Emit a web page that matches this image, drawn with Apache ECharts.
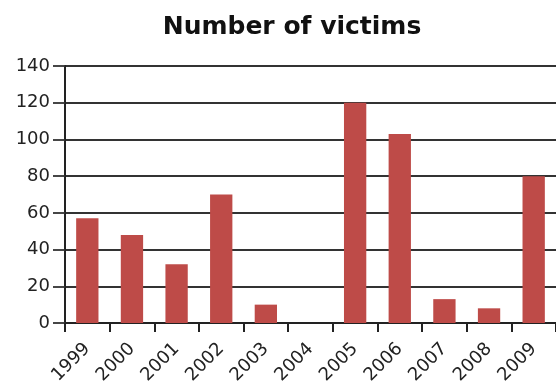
<!DOCTYPE html>
<html>
<head>
<meta charset="utf-8">
<script src="https://cdn.jsdelivr.net/npm/echarts@6/dist/echarts.min.js"></script>
<style>html,body{margin:0;padding:0;background:#fff;}#c{width:556px;height:389px;}</style>
</head>
<body>
<div id="c"></div>
<script>
const titleText = "Number of victims";
const years = ["1999","2000","2001","2002","2003","2004","2005","2006","2007","2008","2009"];
const victims = [57, 48, 32, 70, 10, 0, 120, 103, 13, 8, 80];
const yTicks = [0, 20, 40, 60, 80, 100, 120, 140];

const chart = echarts.init(document.getElementById('c'), null, {renderer: 'canvas'});
chart.setOption({
  animation: false,
  backgroundColor: '#ffffff',
  title: {
    text: titleText,
    left: 287, top: 10, textAlign: 'center',
    textStyle: {fontFamily: 'DejaVu Sans', fontWeight: 'bold', fontSize: 25, color: '#111'}
  },
  grid: {left: 65, top: 66, width: 493, height: 257, containLabel: false},
  xAxis: {
    type: 'category',
    data: years,
    boundaryGap: true,
    axisLine: {show: true, lineStyle: {color: '#222', width: 2}},
    axisTick: {show: true, length: 9, lineStyle: {color: '#222', width: 2}},
    axisLabel: {rotate: 45, margin: 23, fontFamily: 'DejaVu Sans', fontSize: 18, color: '#222'}
  },
  yAxis: {
    type: 'value',
    min: yTicks[0], max: yTicks[yTicks.length - 1], interval: 20,
    axisLine: {show: true, lineStyle: {color: '#222', width: 2}},
    axisTick: {show: true, length: 12, lineStyle: {color: '#333', width: 1.8}},
    splitLine: {show: true, lineStyle: {color: '#333', width: 1.8}},
    axisLabel: {margin: 15, fontFamily: 'DejaVu Sans', fontSize: 18, color: '#222'}
  },
  series: [{
    type: 'bar',
    data: victims,
    barWidth: '50%',
    itemStyle: {color: '#be4b48'}
  }]
});
</script>
</body>
</html>
